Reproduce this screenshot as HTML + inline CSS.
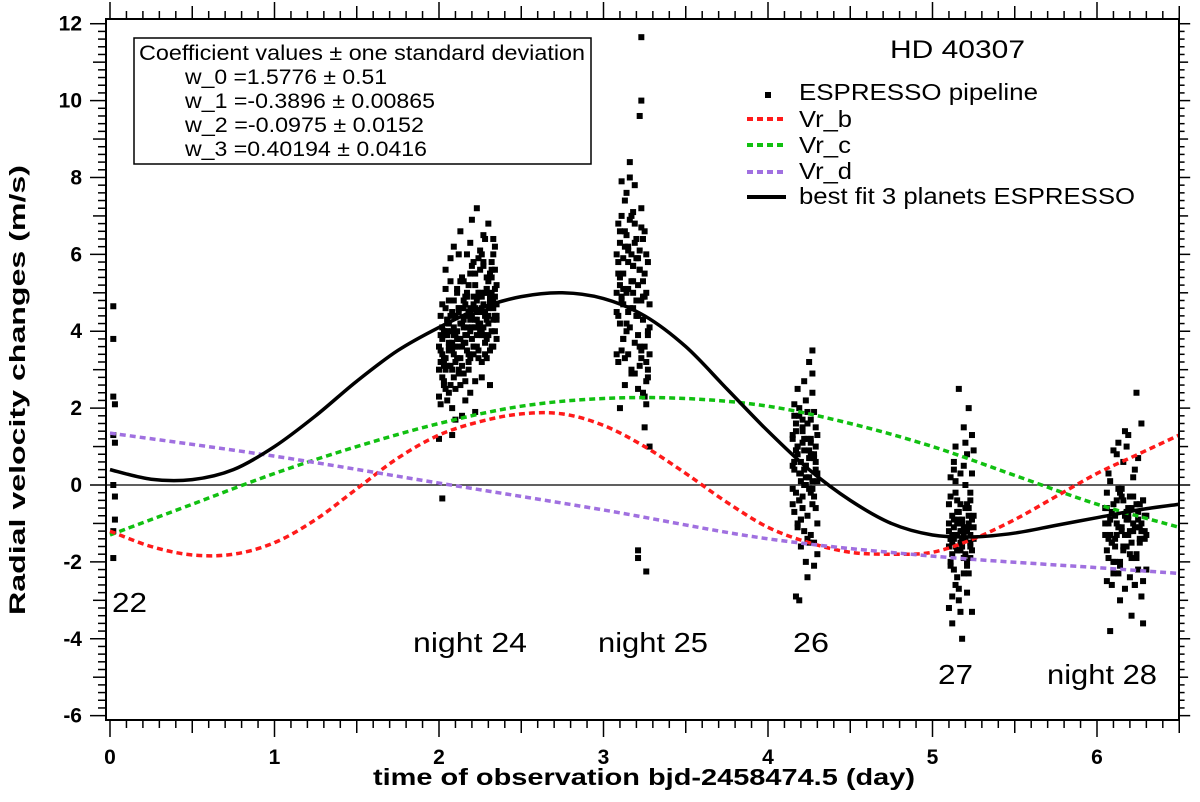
<!DOCTYPE html>
<html><head><meta charset="utf-8"><style>
html,body{margin:0;padding:0;background:#fff}
svg{display:block;font-family:"Liberation Sans",sans-serif}
</style></head><body>
<svg id="chart" width="1200" height="802" viewBox="0 0 1200 802">
<g id="grid"></g>
<g id="series"></g>
<rect x="106" y="19" width="1073" height="701" fill="none" stroke="#000" stroke-width="2"/>
<g id="axes"></g>
<text transform="translate(25,390) rotate(-90)" text-anchor="middle" font-size="22" font-weight="bold" textLength="450" lengthAdjust="spacingAndGlyphs">Radial velocity changes (m/s)</text>
<text x="644" y="785" text-anchor="middle" font-size="23" font-weight="bold" textLength="542" lengthAdjust="spacingAndGlyphs">time of observation bjd-2458474.5 (day)</text>
<g font-size="21">
<rect x="134" y="38" width="457" height="126" fill="#fff" stroke="#000" stroke-width="1.5"/>
<text x="139" y="60" textLength="446" lengthAdjust="spacingAndGlyphs">Coefficient values ± one standard deviation</text>
<text x="185" y="84" textLength="202" lengthAdjust="spacingAndGlyphs">w_0 =1.5776 ± 0.51</text>
<text x="185" y="108" textLength="250" lengthAdjust="spacingAndGlyphs">w_1 =-0.3896 ± 0.00865</text>
<text x="185" y="132" textLength="239" lengthAdjust="spacingAndGlyphs">w_2 =-0.0975 ± 0.0152</text>
<text x="185" y="156" textLength="242" lengthAdjust="spacingAndGlyphs">w_3 =0.40194 ± 0.0416</text>
</g>
<text x="890" y="58" font-size="25" textLength="135" lengthAdjust="spacingAndGlyphs">HD 40307</text>
<g font-size="23">
<rect x="765" y="92" width="6" height="6" fill="#000"/>
<text x="799" y="100" textLength="239" lengthAdjust="spacingAndGlyphs">ESPRESSO pipeline</text>
<line x1="747" y1="119" x2="785" y2="119" stroke="#ff1a1a" stroke-width="4" stroke-dasharray="6,4"/>
<text x="799" y="127" textLength="53" lengthAdjust="spacingAndGlyphs">Vr_b</text>
<line x1="747" y1="145" x2="785" y2="145" stroke="#11c011" stroke-width="4" stroke-dasharray="6,4"/>
<text x="799" y="153" textLength="52" lengthAdjust="spacingAndGlyphs">Vr_c</text>
<line x1="747" y1="172" x2="785" y2="172" stroke="#a070e0" stroke-width="4" stroke-dasharray="6,4"/>
<text x="799" y="179" textLength="53" lengthAdjust="spacingAndGlyphs">Vr_d</text>
<line x1="747" y1="197" x2="786" y2="197" stroke="#000" stroke-width="4"/>
<text x="799" y="204" textLength="336" lengthAdjust="spacingAndGlyphs">best fit 3 planets ESPRESSO</text>
</g>
<g font-size="28">
<text x="112" y="612" textLength="35" lengthAdjust="spacingAndGlyphs">22</text>
<text x="413" y="652" textLength="114" lengthAdjust="spacingAndGlyphs">night 24</text>
<text x="598" y="652" textLength="110" lengthAdjust="spacingAndGlyphs">night 25</text>
<text x="793" y="652" textLength="36" lengthAdjust="spacingAndGlyphs">26</text>
<text x="938" y="684" textLength="35" lengthAdjust="spacingAndGlyphs">27</text>
<text x="1047" y="684" textLength="110" lengthAdjust="spacingAndGlyphs">night 28</text>
</g>
</svg>
<script>
const curveT = [0,0.25,0.5,0.75,1.0,1.25,1.5,1.75,2.0,2.25,2.5,2.75,3.0,3.25,3.5,3.75,4.0,4.25,4.5,4.75,5.0,5.25,5.5,5.75,6.0,6.25,6.5];
const fitVals = [0.4,0.15,0.14,0.4,1.0,1.8,2.7,3.5,4.1,4.6,4.9,5.0,4.85,4.4,3.6,2.5,1.4,0.4,-0.4,-1.0,-1.3,-1.35,-1.25,-1.05,-0.85,-0.65,-0.5];
const bT = [0,0.25,0.5,0.75,1.0,1.25,1.5,1.75,2.0,2.25,2.5,2.75,3.0,3.25,3.5,3.75,4.0,4.25,4.5,4.75,5.0,5.25,5.5,5.75,6.0,6.25,6.5];
const bVals = [-1.2,-1.6,-1.82,-1.8,-1.5,-0.9,-0.1,0.7,1.3,1.65,1.85,1.85,1.55,1.0,0.3,-0.45,-1.1,-1.5,-1.75,-1.8,-1.75,-1.4,-0.9,-0.3,0.3,0.8,1.3];
const cT = [0,0.5,1.0,1.5,2.0,2.5,3.0,3.5,4.0,4.5,5.0,5.5,6.0,6.5];
const cVals = [-1.3,-0.5,0.3,1.0,1.6,2.05,2.25,2.25,2.05,1.6,1.0,0.25,-0.5,-1.1];
const dT = [0,1,2,3,4,5,6,6.5];
const dVals = [1.35,0.75,0.05,-0.65,-1.4,-1.85,-2.15,-2.3];

const n22t=[0.02,0.02,0.02,0.03,0.02,0.03,0.02,0.03,0.03,0.02,0.02];
const n22v=[4.65,3.8,2.3,2.1,1.3,1.1,0.0,-0.3,-0.9,-1.2,-1.9];
const n24t=[2.01,2.02,2.02,2.03,2.03,2.04,2.04,2.05,2.05,2.06,2.06,2.07,2.07,2.08,2.08,2.09,2.09,2.10,2.10,2.11,2.11,2.12,2.12,2.13,2.13,2.14,2.14,2.15,2.15,2.16,2.16,2.17,2.17,2.18,2.18,2.19,2.19,2.20,2.20,2.21,2.21,2.22,2.22,2.23,2.23,2.24,2.24,2.25,2.25,2.26,2.26,2.27,2.27,2.28,2.28,2.29,2.29,2.30,2.30,2.31,2.31,2.32,2.32,2.33,2.33,2.34,2.34,2.35,2.05,2.12,2.19,2.26,2.08,2.15,2.22,2.29,2.03,2.10,2.17,2.24];
const n24v=[3.2,-0.35,4.1,2.6,3.9,5.6,3.0,4.3,2.2,3.6,4.8,3.1,5.9,1.3,4.0,3.4,6.2,2.5,4.4,3.8,5.1,2.9,4.6,3.3,6.6,1.8,4.2,5.3,3.7,2.7,4.9,3.9,6.0,3.2,4.5,5.5,2.4,4.1,6.9,3.6,4.7,1.9,5.2,4.3,7.2,3.5,5.0,4.0,6.1,2.8,4.6,5.7,3.9,4.4,6.4,3.3,5.1,4.2,6.8,4.7,2.6,5.4,4.0,6.0,3.6,4.9,5.6,4.3,4.0,3.8,4.6,4.9,3.5,4.3,4.1,5.0,3.3,3.6,4.4,4.2];
const n24grid=[2.00,2.01,2.02,2.03,2.04,2.05,2.06,2.07,2.08,2.09,2.10,2.11,2.12,2.13,2.14,2.15,2.16,2.17,2.18,2.19,2.20,2.21,2.22,2.23,2.24,2.25,2.26,2.27,2.28,2.29,2.30,2.31,2.32,2.33,2.34,2.35];
const n24rows=[
[3.0,3.5,2.8,4.0,3.3,3.9,2.4,4.4,3.7,4.1,3.2,5.0,4.6,3.8,4.2,2.9,4.7,3.5,5.2,4.0,4.4,3.6,5.5,4.8,4.1,5.0,3.9,5.8,4.5,4.3,5.3,4.9,5.6,4.6,5.1,4.4],
[2.3,3.9,3.4,2.7,4.6,3.1,4.2,3.6,2.0,4.8,3.9,3.3,4.5,2.6,5.4,4.1,3.7,4.9,3.0,4.3,5.7,3.4,4.6,3.9,5.9,4.2,3.2,4.7,5.0,3.8,4.4,5.5,3.6,4.8,4.0,5.2],
[1.2,4.4,3.8,3.1,5.1,4.3,3.5,2.6,4.5,3.9,1.7,4.0,3.0,5.3,3.6,4.6,2.2,4.1,3.4,6.3,3.8,4.9,2.7,4.5,3.3,5.6,4.0,6.5,3.7,5.1,4.6,3.5,5.8,4.3,6.2,4.7],
[3.6,2.1,4.7,3.2,2.5,4.0,3.7,5.3,3.0,2.8,4.4,3.6,6.0,4.2,3.1,4.8,3.9,5.0,4.5,3.3,4.1,5.8,4.3,3.6,4.9,4.5,6.0,4.1,3.4,5.4,3.9,4.8,5.0,6.4,4.4,3.8]];
const n25t=[3.08,3.09,3.09,3.10,3.10,3.11,3.11,3.12,3.12,3.13,3.13,3.14,3.14,3.15,3.15,3.16,3.16,3.17,3.17,3.18,3.18,3.19,3.19,3.20,3.23,3.21,3.21,3.22,3.22,3.23,3.23,3.24,3.24,3.25,3.25,3.26,3.26,3.27,3.27,3.28,3.21,3.21,3.26,3.23,3.22,3.12,3.15,3.18,3.10,3.25];
const n25v=[4.5,5.8,3.2,6.3,2.0,4.9,7.0,3.8,5.5,6.6,2.6,4.2,7.6,5.1,3.4,8.4,4.6,6.0,2.9,7.1,5.3,3.7,6.8,4.4,11.65,-1.7,5.9,3.1,9.6,4.8,10.0,2.4,6.4,3.6,1.5,5.0,2.1,4.0,3.0,1.0,-1.9,2.5,-2.25,3.3,5.6,4.7,6.2,5.7,5.2,2.3];
const n25grid=[3.08,3.09,3.10,3.11,3.12,3.13,3.14,3.15,3.16,3.17,3.18,3.19,3.20,3.21,3.22,3.23,3.24,3.25,3.26,3.27,3.28];
const n25rows=[
[5.0,6.8,4.2,3.5,5.9,7.4,4.0,6.1,8.0,5.3,4.6,7.8,6.4,3.9,5.6,7.2,4.9,6.6,3.2,5.8,4.1],
[6.0,4.4,5.4,7.9,3.8,6.2,5.0,4.5,6.9,3.0,5.7,6.3,4.8,5.2,3.6,6.7,4.3,5.5,6.0,2.8,4.7],
[3.4,5.5,6.6,4.8,5.1,3.3,6.5,5.8,4.1,7.0,5.0,2.9,5.9,4.4,6.1,3.5,5.3,4.9,2.7,3.9,3.4]];
const n26t=[4.15,4.15,4.16,4.16,4.17,4.17,4.18,4.18,4.19,4.19,4.20,4.20,4.21,4.21,4.22,4.22,4.23,4.23,4.24,4.24,4.25,4.25,4.26,4.26,4.27,4.27,4.28,4.28,4.29,4.29,4.30,4.30,4.17,4.19,4.21,4.23,4.25,4.27,4.16,4.18,4.20,4.22,4.24,4.26,4.28];
const n26v=[1.2,-0.5,2.1,0.4,-2.9,1.6,-1.1,0.8,-3.0,2.0,0.1,-1.6,1.4,-0.3,2.7,0.9,-2.0,0.5,1.9,-0.8,3.2,0.2,-1.3,1.1,3.5,-0.1,-2.1,0.7,1.5,-0.6,0.3,-1.0,0.9,-0.4,1.7,0.0,-1.5,2.4,0.6,1.0,-0.9,0.4,1.2,-0.2,0.8];
const n26grid=[4.15,4.16,4.17,4.18,4.19,4.20,4.21,4.22,4.23,4.24,4.25,4.26,4.27,4.28,4.29,4.30];
const n26rows=[
[0.5,1.8,-0.2,1.0,0.3,-0.9,1.5,0.0,2.2,-1.4,0.7,1.2,-0.5,1.9,0.4,-1.8],
[1.3,-0.7,0.9,2.5,-0.4,0.6,1.1,-1.2,0.2,1.6,-0.1,0.8,2.9,-0.3,1.0,0.1],
[-0.1,0.6,1.4,-1.0,1.8,0.3,-0.6,1.2,0.5,-2.4,0.9,1.7,0.1,-1.5,0.6,1.3]];
const n27t=[5.10,5.10,5.11,5.11,5.12,5.12,5.13,5.13,5.14,5.14,5.15,5.15,5.16,5.16,5.17,5.17,5.18,5.18,5.19,5.19,5.20,5.20,5.21,5.21,5.22,5.22,5.23,5.23,5.24,5.24,5.25,5.12,5.14,5.16,5.18,5.20,5.22,5.11,5.13,5.15,5.17,5.19,5.21,5.23,5.15];
const n27v=[-1.2,-3.2,0.2,-2.0,-1.5,-3.6,0.6,-0.9,-2.6,1.0,-1.3,-0.4,-3.0,2.5,-1.7,0.3,-4.0,-1.0,1.5,-2.3,-0.6,-1.4,0.8,-2.8,-1.1,2.0,-0.2,-1.9,1.3,-3.3,-0.8,-1.3,-1.6,-0.9,-1.2,-1.8,-1.0,-1.4,-2.2,-0.7,-1.5,-1.1,-0.5,-1.3,-1.7];
const n27grid=[5.10,5.11,5.12,5.13,5.14,5.15,5.16,5.17,5.18,5.19,5.20,5.21,5.22,5.23,5.24,5.25];
const n27rows=[
[-1.0,-0.3,-1.8,-1.4,0.1,-2.4,-0.7,-1.2,-1.6,0.5,-1.1,-2.0,-0.6,-1.5,-0.9,0.9],
[-1.6,-2.1,-0.8,0.4,-1.3,-1.0,-2.7,-0.5,-1.4,-1.9,0.0,-1.2,-2.3,-0.4,-1.7,-1.1],
[-0.5,-1.4,-2.9,-1.1,-0.2,-1.7,-1.0,-3.3,-0.9,-1.3,1.1,-2.1,-0.8,-1.6,0.3,-1.4]];
const n28t=[6.05,6.06,6.07,6.08,6.09,6.10,6.11,6.12,6.13,6.14,6.15,6.16,6.17,6.18,6.19,6.20,6.21,6.22,6.23,6.24,6.25,6.26,6.27,6.28,6.29,6.30,6.06,6.08,6.10,6.12,6.14,6.16,6.18,6.20,6.22,6.24,6.26,6.28,6.07,6.09,6.11,6.13,6.15,6.17,6.19,6.21,6.23,6.25,6.27,6.19];
const n28v=[-1.0,-2.5,0.3,-3.8,-1.5,0.9,-2.0,-0.4,1.1,-3.0,-1.2,0.6,-2.7,-0.7,1.3,-1.8,-3.4,0.2,-1.1,2.4,-2.2,-0.5,1.6,-3.6,-1.4,-0.8,-0.6,-1.3,-2.0,-1.0,-0.2,-1.7,-0.9,-1.2,-0.3,-1.9,-1.1,-0.4,-1.4,-0.7,-1.6,-2.3,-0.1,-1.3,-0.8,-1.5,-2.6,-0.9,-1.2,-0.6];
const n28grid=[6.05,6.06,6.07,6.08,6.09,6.10,6.11,6.12,6.13,6.14,6.15,6.16,6.17,6.18,6.19,6.20,6.21,6.22,6.23,6.24,6.25,6.26,6.27,6.28,6.29,6.30];
const n28rows=[
[-1.3,-0.2,-1.9,-0.9,-2.6,-0.5,-1.4,0.8,-1.1,-2.1,-0.3,-1.6,-0.8,1.0,-1.3,-2.4,-0.6,-1.0,0.4,-1.8,-0.7,-1.5,-2.9,-0.4,-1.2,-2.2],
[-0.6,-1.7,-1.0,0.1,-1.5,-2.3,-0.8,-1.3,-0.1,-2.0,-1.1,-0.4,1.4,-1.6,-0.9,-0.3,-1.9,-1.2,-2.6,-0.5,0.7,-1.4,-1.0,-2.5,-0.8,-1.3]];
const xTickLabels=[0,1,2,3,4,5,6];
const yTickLabels=[-6,-4,-2,0,2,4,6,8,10,12];

const NS="http://www.w3.org/2000/svg";
const X0=110, XS=164.5, Y0=485, YS=38.44;
const sx=t=>X0+t*XS, sy=v=>Y0-v*YS;
function mk(tag,parent,attrs){const e=document.createElementNS(NS,tag);for(const k in attrs)e.setAttribute(k,attrs[k]);parent.appendChild(e);return e;}
const axes=document.getElementById('axes'), series=document.getElementById('series'), grid=document.getElementById('grid');

const zl=mk('line',grid,{x1:106,x2:1179,y1:sy(0),y2:sy(0),stroke:'#000','stroke-width':1.2});



for(let i=0;i<=65;i++){const t=i/10,x=sx(t),maj=i%10==0,mid=i%5==0;
  const len=maj?17:(mid?13:8);
  const a=mk('line',axes,{x1:x,x2:x,y1:720,y2:720+len,stroke:'#000','stroke-width':1.5});
  
  
  const b=mk('line',axes,{x1:x,x2:x,y1:19,y2:19-len,stroke:'#000','stroke-width':1.5});
  
  
}
xTickLabels.forEach(v=>{const t=mk('text',axes,{x:sx(v),y:764,'text-anchor':'middle','font-size':21,'font-weight':'bold'});t.textContent=v;
  
  });
for(let i=-32;i<=62;i++){const v=i/5,y=sy(v);if(y<19||y>720)continue;const maj=i%10==0,mid=i%5==0;
  const len=maj?16:(mid?13:8);
  const a=mk('line',axes,{x1:106-len,x2:106,y1:y,y2:y,stroke:'#000','stroke-width':1.5});
  
  
  const b=mk('line',axes,{x1:1179,x2:1179+len*0.7,y1:y,y2:y,stroke:'#000','stroke-width':1.5});
  
  
}
yTickLabels.forEach(v=>{const t=mk('text',axes,{x:82,y:sy(v)+7,'text-anchor':'end','font-size':21,'font-weight':'bold'});t.textContent=v;
  
  });

function smooth(ts,vs){const p=ts.map((t,i)=>[sx(t),sy(vs[i])]);let d='M'+p[0][0]+','+p[0][1];
  for(let i=0;i<p.length-1;i++){const p0=p[Math.max(0,i-1)],p1=p[i],p2=p[i+1],p3=p[Math.min(p.length-1,i+2)];
    const c1=[p1[0]+(p2[0]-p0[0])/6,p1[1]+(p2[1]-p0[1])/6],c2=[p2[0]-(p3[0]-p1[0])/6,p2[1]-(p3[1]-p1[1])/6];
    d+=' C'+c1[0]+','+c1[1]+' '+c2[0]+','+c2[1]+' '+p2[0]+','+p2[1];}
  return d;}

function dot(t,v){const r=mk('rect',series,{x:sx(t)-3,y:sy(v)-3,width:6,height:6,fill:'#000'});
  
  }
[[n22t,n22v],[n24t,n24v],[n25t,n25v],[n26t,n26v],[n27t,n27v],[n28t,n28v]].forEach(([ts,vs])=>{
  const n=Math.min(ts.length,vs.length);
  for(let i=0;i<n;i++)dot(ts[i],vs[i]);
});
[[n24grid,n24rows],[n25grid,n25rows],[n26grid,n26rows],[n27grid,n27rows],[n28grid,n28rows]].forEach(([g,rows])=>{
  rows.forEach(row=>{const n=Math.min(g.length,row.length);for(let i=0;i<n;i++)dot(g[i],row[i]);});
});
const curves=[[cT,cVals,'#11c011','vr-c-curve',true],[bT,bVals,'#ff1a1a','vr-b-curve',true],[dT,dVals,'#a070e0','vr-d-curve',true],[curveT,fitVals,'#000','best-fit-curve',false]];
curves.forEach(([ts,vs,col,name,dash])=>{
  const p=mk('path',series,{d:smooth(ts,vs),fill:'none',stroke:col,'stroke-width':3.5});
  if(dash)p.setAttribute('stroke-dasharray','6,4');
  
  
});
</script>
</body></html>
